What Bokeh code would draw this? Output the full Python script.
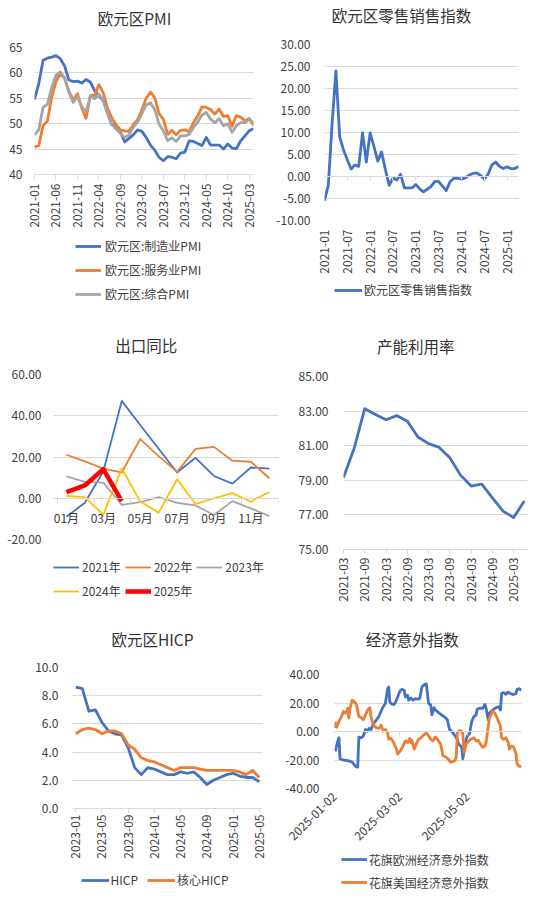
import math
import pandas as pd
from bokeh.plotting import figure
from bokeh.layouts import column, row
from bokeh.models import (FixedTicker, Label, Legend, LegendItem, Range1d,
                          NumeralTickFormatter, DatetimeTickFormatter, LinearAxis)
from bokeh.embed import file_html
from bokeh.resources import INLINE

# ---------------- data ----------------
pmi_start = "2021-01"
pmi_manufacturing = [54.8, 57.9, 62.5, 62.9, 63.1, 63.4, 62.8, 61.4, 58.6, 58.3, 58.4, 58.0,
                     58.7, 58.2, 56.5, 55.5, 54.6, 52.1, 49.8, 49.6, 48.4, 46.4, 47.1, 47.8,
                     48.8, 48.5, 47.3, 45.8, 44.8, 43.4, 42.7, 43.5, 43.4, 43.1, 44.2, 44.4,
                     46.6, 46.5, 46.1, 45.7, 47.3, 45.8, 45.8, 45.8, 45.0, 46.0, 45.2, 45.1,
                     46.6, 47.6, 48.6, 49.0]
pmi_services = [45.4, 45.7, 49.6, 50.5, 55.2, 58.3, 59.8, 59.0, 56.4, 54.6, 55.9, 53.1,
                51.1, 55.5, 55.6, 57.7, 56.1, 53.0, 51.2, 49.8, 48.8, 48.6, 48.5, 49.8,
                50.8, 52.7, 55.0, 56.2, 55.1, 52.0, 50.9, 47.9, 48.7, 47.8, 48.7, 48.8,
                48.4, 50.2, 51.5, 53.3, 53.2, 52.8, 51.9, 52.9, 51.4, 51.6, 49.5, 51.6,
                51.3, 50.6, 51.0, 49.7]
pmi_composite = [47.8, 48.8, 53.2, 53.8, 57.1, 59.5, 60.2, 59.0, 56.2, 54.2, 55.4, 53.3,
                 52.3, 55.5, 54.9, 55.8, 54.8, 52.0, 49.9, 48.9, 48.1, 47.3, 47.8, 49.3,
                 50.3, 52.0, 53.7, 54.1, 52.8, 49.9, 48.6, 46.7, 47.2, 46.5, 47.6, 47.6,
                 47.9, 49.2, 50.3, 51.7, 52.2, 50.9, 50.2, 51.0, 49.6, 50.0, 48.3, 49.6,
                 50.2, 50.2, 50.9, 50.1]
pmi_tick_labels = ["2021-01", "2021-06", "2021-11", "2022-04", "2022-09", "2023-02",
                   "2023-07", "2023-12", "2024-05", "2024-10", "2025-03"]
pmi_names = ["欧元区:制造业PMI", "欧元区:服务业PMI", "欧元区:综合PMI"]

retail_start = "2021-01"
retail_sales = [-5.5, -2.0, 12.0, 24.0, 9.0, 6.0, 3.8, 1.7, 2.6, 2.3, 9.9, 3.3,
                9.9, 6.8, 3.5, 5.6, 1.6, -2.0, -0.3, -0.8, 0.5, -2.6, -2.6, -2.6,
                -1.8, -2.8, -3.5, -2.9, -2.3, -1.1, -1.1, -2.2, -3.2, -1.2, -0.4, -0.4,
                -0.6, -0.3, 0.3, 0.7, 0.8, 0.3, -0.6, 0.5, 2.6, 3.3, 2.3, 1.8,
                2.2, 1.8, 1.8, 2.3]
retail_tick_labels = ["2021-01", "2021-07", "2022-01", "2022-07", "2023-01",
                      "2023-07", "2024-01", "2024-07", "2025-01"]
retail_name = "欧元区零售销售指数"

export_months = ["01月", "02月", "03月", "04月", "05月", "06月",
                 "07月", "08月", "09月", "10月", "11月", "12月"]
export_tick_labels = ["01月", "03月", "05月", "07月", "09月", "11月"]
export_2021 = [-9.0, -2.2, 13.0, 47.2, 35.5, 24.0, 12.5, 19.6, 10.8, 7.1, 14.9, 14.4]
export_2022 = [21.1, 17.9, 14.4, 12.5, 28.7, 20.4, 12.8, 23.9, 24.9, 18.2, 17.7, 9.7]
export_2023 = [10.6, 7.9, 7.6, -3.2, -1.9, 0.6, -2.2, -3.5, -8.1, -1.4, -4.9, -8.6]
export_2024 = [1.1, 0.5, -7.9, 14.4, -1.6, -7.0, 9.2, -2.8, 0.0, 2.5, -1.7, 3.0]
export_2025 = [3.0, 6.2, 14.1, -1.4]
export_names = ["2021年", "2022年", "2023年", "2024年", "2025年"]

capacity_quarters = ["2021-03", "2021-06", "2021-09", "2021-12", "2022-03", "2022-06",
                     "2022-09", "2022-12", "2023-03", "2023-06", "2023-09", "2023-12",
                     "2024-03", "2024-06", "2024-09", "2024-12", "2025-03", "2025-06"]
capacity_util = [79.16, 80.84, 83.14, 82.80, 82.50, 82.74, 82.42, 81.50, 81.12,
                 80.90, 80.30, 79.30, 78.67, 78.78, 77.98, 77.22, 76.85, 77.80]
capacity_tick_labels = ["2021-03", "2021-09", "2022-03", "2022-09", "2023-03",
                        "2023-09", "2024-03", "2024-09", "2025-03"]

hicp_start = "2023-01"
hicp = [8.6, 8.5, 6.9, 7.0, 6.1, 5.5, 5.3, 5.2, 4.3, 2.9, 2.4, 2.9,
        2.8, 2.6, 2.4, 2.4, 2.6, 2.5, 2.6, 2.2, 1.7, 2.0, 2.2, 2.4,
        2.5, 2.3, 2.2, 2.2, 1.9]
core_hicp = [5.3, 5.6, 5.7, 5.6, 5.3, 5.5, 5.5, 5.3, 4.5, 4.2, 3.6, 3.4,
             3.3, 3.1, 2.9, 2.7, 2.9, 2.9, 2.9, 2.8, 2.7, 2.7, 2.7, 2.7,
             2.7, 2.6, 2.4, 2.7, 2.2]
hicp_tick_labels = ["2023-01", "2023-05", "2023-09", "2024-01", "2024-05",
                    "2024-09", "2025-01", "2025-05"]
hicp_names = ["HICP", "核心HICP"]

eu_dates = ["2025-01-02", "2025-01-03", "2025-01-05", "2025-01-06", "2025-01-07", "2025-01-10",
            "2025-01-14", "2025-01-18", "2025-01-21", "2025-01-23", "2025-01-24", "2025-01-26",
            "2025-01-28", "2025-01-30", "2025-02-01", "2025-02-02", "2025-02-04", "2025-02-06",
            "2025-02-08", "2025-02-11", "2025-02-13", "2025-02-15", "2025-02-17", "2025-02-19",
            "2025-02-20", "2025-02-21", "2025-02-23", "2025-02-25", "2025-02-27", "2025-03-02",
            "2025-03-04", "2025-03-06", "2025-03-07", "2025-03-09", "2025-03-10", "2025-03-12",
            "2025-03-14", "2025-03-16", "2025-03-18", "2025-03-20", "2025-03-22", "2025-03-24",
            "2025-03-26", "2025-03-28", "2025-03-30", "2025-03-31", "2025-04-02", "2025-04-03",
            "2025-04-05", "2025-04-08", "2025-04-10", "2025-04-12", "2025-04-14", "2025-04-16",
            "2025-04-19", "2025-04-21", "2025-04-23", "2025-04-24", "2025-04-27", "2025-04-28",
            "2025-04-29", "2025-05-01", "2025-05-02", "2025-05-04", "2025-05-06", "2025-05-08",
            "2025-05-10", "2025-05-11", "2025-05-13", "2025-05-16", "2025-05-18", "2025-05-19",
            "2025-05-21", "2025-05-22", "2025-05-25", "2025-05-28", "2025-05-30", "2025-06-01",
            "2025-06-02", "2025-06-04", "2025-06-06", "2025-06-08", "2025-06-10", "2025-06-12",
            "2025-06-15", "2025-06-16", "2025-06-18", "2025-06-20"]
eu_surprise = [-12.4, -13.0, -6.6, -4.4, -19.2, -20.0, -20.4, -21.5, -24.5, -25.0, -3.9, -4.4,
               -3.2, 1.4, 0.2, 2.1, 1.4, 5.3, 7.1, 10.5, 14.0, 17.4, 19.7, 30.0,
               31.2, 20.8, 19.0, 19.0, 22.0, 28.2, 29.6, 28.9, 24.3, 25.4, 22.0, 23.6,
               22.0, 23.1, 22.7, 23.1, 31.2, 32.8, 33.4, 19.7, 18.6, 11.7, 16.7, 15.1,
               14.0, 12.1, 11.0, 9.9, 8.2, 1.4, -0.9, -3.2, -5.5, -8.5, -11.2, -19.2,
               -14.7, -5.5, -3.2, -1.6, 7.1, 10.5, 11.7, 15.8, 16.3, 16.3, 19.0, 16.3,
               8.2, 12.8, 15.1, 16.7, 17.4, 15.1, 26.6, 27.3, 26.1, 27.7, 26.6, 25.9,
               26.6, 29.6, 30.0, 28.9]
us_dates = ["2025-01-02", "2025-01-03", "2025-01-04", "2025-01-06", "2025-01-08", "2025-01-10",
            "2025-01-12", "2025-01-14", "2025-01-15", "2025-01-16", "2025-01-18", "2025-01-20",
            "2025-01-22", "2025-01-24", "2025-01-26", "2025-01-28", "2025-01-30", "2025-02-01",
            "2025-02-03", "2025-02-04", "2025-02-06", "2025-02-09", "2025-02-11", "2025-02-13",
            "2025-02-15", "2025-02-17", "2025-02-19", "2025-02-20", "2025-02-22", "2025-02-24",
            "2025-02-27", "2025-02-28", "2025-03-03", "2025-03-05", "2025-03-07", "2025-03-09",
            "2025-03-11", "2025-03-12", "2025-03-13", "2025-03-15", "2025-03-17", "2025-03-19",
            "2025-03-21", "2025-03-24", "2025-03-26", "2025-03-28", "2025-03-30", "2025-04-01",
            "2025-04-03", "2025-04-05", "2025-04-08", "2025-04-10", "2025-04-12", "2025-04-14",
            "2025-04-17", "2025-04-19", "2025-04-21", "2025-04-22", "2025-04-23", "2025-04-25",
            "2025-04-27", "2025-04-28", "2025-04-29", "2025-05-01", "2025-05-03", "2025-05-05",
            "2025-05-08", "2025-05-10", "2025-05-12", "2025-05-13", "2025-05-16", "2025-05-18",
            "2025-05-19", "2025-05-21", "2025-05-22", "2025-05-24", "2025-05-25", "2025-05-27",
            "2025-05-29", "2025-06-01", "2025-06-02", "2025-06-04", "2025-06-06", "2025-06-08",
            "2025-06-09", "2025-06-11", "2025-06-13", "2025-06-15", "2025-06-16", "2025-06-18",
            "2025-06-20"]
us_surprise = [2.5, 6.0, 3.0, 7.1, 9.9, 14.0, 12.8, 16.3, 9.4, 16.3, 22.0, 20.8,
               18.6, 10.5, 9.9, 8.2, 11.7, 15.1, 16.7, 10.5, 4.8, 2.5, 2.1, 4.4,
               0.2, 1.4, -0.9, -5.5, -4.8, -7.1, -12.4, -15.8, -13.0, -10.1, -6.6, -7.8,
               -4.8, -7.8, -6.2, -12.4, -8.5, -5.5, -4.4, -2.1, -0.9, -3.2, -5.5, -6.6,
               -3.9, -5.5, -8.9, -17.0, -17.6, -18.6, -21.5, -21.1, -20.4, -18.1, -0.9, 0.7,
               0.2, -2.1, -14.7, -8.9, -7.1, -5.5, -4.4, -6.6, -6.2, -7.8, -11.2, -10.1,
               -7.8, 3.7, 9.4, 12.8, 14.4, 12.8, 9.4, 3.7, -4.4, -5.5, -4.4, -7.8,
               -12.4, -10.1, -11.2, -15.4, -22.7, -24.5, -24.5]
surprise_tick_labels = ["2025-01-02", "2025-03-02", "2025-05-02"]
surprise_range = ["2025-01-02", "2025-06-20"]
surprise_names = ["花旗欧洲经济意外指数", "花旗美国经济意外指数"]

titles = ["欧元区PMI", "欧元区零售销售指数", "出口同比", "产能利用率", "欧元区HICP", "经济意外指数"]

# ---------------- style ----------------
FONT = "Noto Sans CJK SC"
TEXT = "#404040"
TITLE_C = "#333333"
GRID = "#d9d9d9"
BLUE, ORANGE, GRAY, YELLOW, RED = "#4472C4", "#ED7D31", "#A5A5A5", "#FFC000", "#FF0000"
NAN = float("nan")


def months(start, n):
    return pd.period_range(start, periods=n, freq="M").strftime("%Y-%m").tolist()


def style_labels(ax):
    ax.major_label_text_font = FONT
    ax.major_label_text_font_size = "12px"
    ax.major_label_text_color = TEXT


def blank_fig(W, h, fl, fr):
    f = figure(width=W, height=h, x_range=Range1d(0, 1), y_range=Range1d(0, 1), title=None,
               x_axis_location=None, y_axis_location=None, output_backend="svg",
               toolbar_location=None, min_border_left=fl, min_border_right=W - fr,
               min_border_top=0, min_border_bottom=0)
    f.xgrid.visible = False
    f.ygrid.visible = False
    f.outline_line_color = None
    f.background_fill_color = "white"
    f.border_fill_color = "white"
    return f


def title_fig(W, T, fl, fr, text, cx, cy):
    f = blank_fig(W, T, fl, fr)
    f.add_layout(Label(x=cx - fl, y=T - cy, x_units="screen", y_units="screen",
                       text=text, text_align="center", text_baseline="middle",
                       text_font=FONT, text_font_size="15.5px", text_color=TITLE_C))
    return f


def legend_fig(W, h, fl, fr, styles, names, left, top, orientation="vertical", ncols=None,
               glyph_width=26, item_h=18, spacing=6, standoff=4, rows=1):
    f = blank_fig(W, h, fl, fr)
    items = []
    for (col, lw), name in zip(styles, names):
        # legend proxy: a line with no visible points, same style as the series
        r = f.line(x=[NAN], y=[NAN], line_color=col, line_width=lw)
        items.append(LegendItem(label=name, renderers=[r]))
    lh = rows * item_h + (rows - 1) * spacing
    leg = Legend(items=items, location=(left - fl, h - top - lh), orientation=orientation,
                 glyph_width=glyph_width, glyph_height=item_h, label_height=item_h,
                 label_standoff=standoff, spacing=spacing, padding=0, margin=0,
                 border_line_color=None, background_fill_alpha=0,
                 label_text_font=FONT, label_text_font_size="12px", label_text_color=TEXT)
    if ncols:
        leg.ncols = ncols
    f.add_layout(leg)
    return f


def make_fig(W, H, xr, yr, fl, fr, ft, fb, yticks, yfmt, ystand, x_axis_type="linear"):
    p = figure(width=W, height=H, x_range=xr, y_range=yr, x_axis_type=x_axis_type,
               title=None, output_backend="svg", toolbar_location=None,
               min_border_left=fl, min_border_right=W - fr,
               min_border_top=ft, min_border_bottom=H - fb)
    p.outline_line_color = None
    p.background_fill_color = "white"
    p.border_fill_color = "white"
    p.xgrid.visible = False
    p.ygrid.grid_line_color = GRID
    p.ygrid.grid_line_width = 1
    p.ygrid.ticker = FixedTicker(ticks=yticks)
    ya = p.yaxis[0]
    ya.ticker = FixedTicker(ticks=yticks)
    ya.formatter = NumeralTickFormatter(format=yfmt)
    ya.axis_line_color = None
    ya.major_tick_line_color = None
    ya.minor_tick_line_color = None
    ya.major_tick_out = 0
    ya.major_tick_in = 0
    ya.major_label_standoff = ystand
    style_labels(ya)
    xa = p.xaxis[0]
    xa.minor_tick_line_color = None
    style_labels(xa)
    return p


def cat_axis(xa, cats, tick_labels):
    pos = [cats.index(t) for t in tick_labels]
    xa.ticker = FixedTicker(ticks=pos)
    xa.major_label_overrides = {k: t for k, t in zip(pos, tick_labels)}
    return pos


def rotated_bottom_axis(xa, tick_out, standoff, line=True):
    xa.major_label_orientation = math.pi / 2
    xa.axis_line_color = GRID if line else None
    xa.major_tick_line_color = GRID if line else None
    xa.major_tick_in = 0
    xa.major_tick_out = tick_out
    xa.major_label_standoff = standoff


# ---------------- panel 1: PMI ----------------
W, H = 268, 326
fl, fr, ft, fb, T, L = 34, 253, 47, 174, 37, 232
pm = months(pmi_start, len(pmi_manufacturing))
p1 = make_fig(W, L - T, Range1d(0, len(pm) - 1), Range1d(40, 65), fl, fr, ft - T, fb - T,
              list(range(40, 66, 5)), "0", 12)
xa = p1.xaxis[0]
cat_axis(xa, pm, pmi_tick_labels)
rotated_bottom_axis(xa, 5, 4)
xs = list(range(len(pm)))
pmi_styles = [(BLUE, 2.8), (ORANGE, 2.8), (GRAY, 2.8)]
for vals, (col, lw) in zip([pmi_manufacturing, pmi_services, pmi_composite], pmi_styles):
    p1.line(xs, vals, line_color=col, line_width=lw, line_join="round")
panel1 = column(title_fig(W, T, fl, fr, titles[0], 134, 17.7), p1,
                legend_fig(W, H - L, fl, fr, pmi_styles, pmi_names, 75, 236.6 - L, rows=3))

# ---------------- panel 2: retail ----------------
fl, fr, ft, fb, T, L = 56, 250, 44, 220, 34, 276
rm = months(retail_start, len(retail_sales))
p2 = make_fig(W, L - T, Range1d(0, len(rm) - 1), Range1d(-10, 30), fl, fr, ft - T, fb - T,
              list(range(-10, 31, 5)), "0.00", 14)
xa = p2.xaxis[0]
rpos = cat_axis(xa, rm, retail_tick_labels)
rotated_bottom_axis(xa, 0, 9, line=False)
zax = LinearAxis(fixed_location=0, ticker=FixedTicker(ticks=rpos), axis_line_color=GRID,
                 major_tick_line_color=GRID, major_tick_in=0, major_tick_out=4,
                 minor_tick_line_color=None, major_label_text_color=None)
p2.add_layout(zax, "below")
p2.line(list(range(len(rm))), retail_sales, line_color=BLUE, line_width=2.8, line_join="round")
panel2 = column(title_fig(W, T, fl, fr, titles[1], 133, 14.7), p2,
                legend_fig(W, H - L, fl, fr, [(BLUE, 2.8)], [retail_name], 66, 280.8 - L,
                           glyph_width=28, standoff=2))

# ---------------- panel 3: exports ----------------
W3, H2 = 286, 295
fl, fr, ft, fb, T, L = 53, 278, 48, 213, 38, 225
p3 = make_fig(W3, L - T, Range1d(-0.7, len(export_months) - 0.5), Range1d(-20, 60),
              fl, fr, ft - T, fb - T, list(range(-20, 61, 20)), "0.00", 12)
xa = p3.xaxis[0]
cat_axis(xa, export_months, export_tick_labels)
xa.fixed_location = 0
xa.axis_line_color = None
xa.major_tick_line_color = None
xa.major_tick_in = 0
xa.major_tick_out = 0
xa.major_label_standoff = 11
bounds = [k - 0.5 for k in range(0, len(export_months) + 1, 2)]
zax3 = LinearAxis(fixed_location=0, ticker=FixedTicker(ticks=bounds), axis_line_color=GRID,
                  major_tick_line_color=GRID, major_tick_in=0, major_tick_out=5,
                  minor_tick_line_color=None, major_label_text_color=None)
p3.add_layout(zax3, "below")
ex = list(range(len(export_months)))
export_styles = [(BLUE, 1.8), (ORANGE, 1.8), (GRAY, 1.8), (YELLOW, 1.8), (RED, 4.5)]
for vals, (col, lw) in zip([export_2021, export_2022, export_2023, export_2024, export_2025],
                           export_styles):
    p3.line(ex[:len(vals)], vals, line_color=col, line_width=lw, line_join="round")
panel3 = column(title_fig(W3, T, fl, fr, titles[2], 145.7, 18.5), p3,
                legend_fig(W3, H2 - L, fl, fr, export_styles, export_names, 53, 230.8 - L,
                           orientation="horizontal", ncols=3, glyph_width=26, item_h=20,
                           spacing=4, standoff=3, rows=2))

# ---------------- panel 4: capacity ----------------
W4 = 250
fl, fr, ft, fb, T = 57, 241, 50, 223, 40
p4 = make_fig(W4, H2 - T, Range1d(0, 17.3), Range1d(75, 85), fl, fr, ft - T, fb - T,
              list(range(75, 86, 2)), "0.00", 15)
xa = p4.xaxis[0]
cat_axis(xa, capacity_quarters, capacity_tick_labels)
rotated_bottom_axis(xa, 4, 4)
p4.line(list(range(len(capacity_quarters))), capacity_util, line_color=BLUE, line_width=2.8,
        line_join="round")
panel4 = column(title_fig(W4, T, fl, fr, titles[3], 129.3, 19.5), p4)

# ---------------- panel 5: HICP ----------------
H3 = 273
fl, fr, ft, fb, T, L = 72, 262, 46, 187, 36, 242
hm = months(hicp_start, len(hicp))
p5 = make_fig(W, L - T, Range1d(-0.5, len(hm) - 0.5), Range1d(0, 10), fl, fr, ft - T, fb - T,
              list(range(0, 11, 2)), "0.0", 14)
xa = p5.xaxis[0]
cat_axis(xa, hm, hicp_tick_labels)
rotated_bottom_axis(xa, 4, 2)
hx = list(range(len(hm)))
hicp_styles = [(BLUE, 2.8), (ORANGE, 2.8)]
for vals, (col, lw) in zip([hicp, core_hicp], hicp_styles):
    p5.line(hx, vals, line_color=col, line_width=lw, line_join="round")
panel5 = column(title_fig(W, T, fl, fr, titles[4], 152, 17.6), p5,
                legend_fig(W, H3 - L, fl, fr, hicp_styles, hicp_names, 80.6, 249.9 - L,
                           orientation="horizontal", glyph_width=28, spacing=9, standoff=2))

# ---------------- panel 6: surprise ----------------
fl, fr, ft, fb, T, L = 66, 253, 53, 167, 43, 229
sx0, sx1 = pd.Timestamp(surprise_range[0]), pd.Timestamp(surprise_range[1])
p6 = make_fig(W, L - T, Range1d(sx0, sx1), Range1d(-40, 40), fl, fr, ft - T, fb - T,
              list(range(-40, 41, 20)), "0.00", 15, x_axis_type="datetime")
tick_ms = [pd.Timestamp(t).value // 10**6 for t in surprise_tick_labels]
xa = p6.xaxis[0]
xa.ticker = FixedTicker(ticks=tick_ms)
fmt = "%Y-%m-%d"
xa.formatter = DatetimeTickFormatter(days=fmt, months=fmt, years=fmt, hours=fmt, hourmin=fmt,
                                     minutes=fmt, minsec=fmt, seconds=fmt, milliseconds=fmt,
                                     microseconds=fmt)
xa.major_label_orientation = math.pi / 4
xa.axis_line_color = None
xa.major_tick_line_color = None
xa.major_tick_in = 0
xa.major_tick_out = 0
xa.major_label_standoff = 6
zax6 = LinearAxis(fixed_location=0, ticker=FixedTicker(ticks=tick_ms), axis_line_color=GRID,
                  major_tick_line_color=GRID, major_tick_in=0, major_tick_out=4,
                  minor_tick_line_color=None, major_label_text_color=None)
p6.add_layout(zax6, "below")
surprise_styles = [(BLUE, 2.8), (ORANGE, 2.8)]
for d, vals, (col, lw) in zip([eu_dates, us_dates], [eu_surprise, us_surprise], surprise_styles):
    p6.line(pd.to_datetime(d), vals, line_color=col, line_width=lw, line_join="round")
panel6 = column(title_fig(W, T, fl, fr, titles[5], 143.7, 17.6), p6,
                legend_fig(W, H3 - L, fl, fr, surprise_styles, surprise_names, 72.8, 0,
                           spacing=5, standoff=2, rows=2))

layout = column(row(panel1, panel2), row(panel3, panel4), row(panel5, panel6))
open("out.html", "w").write(file_html(layout, INLINE))
